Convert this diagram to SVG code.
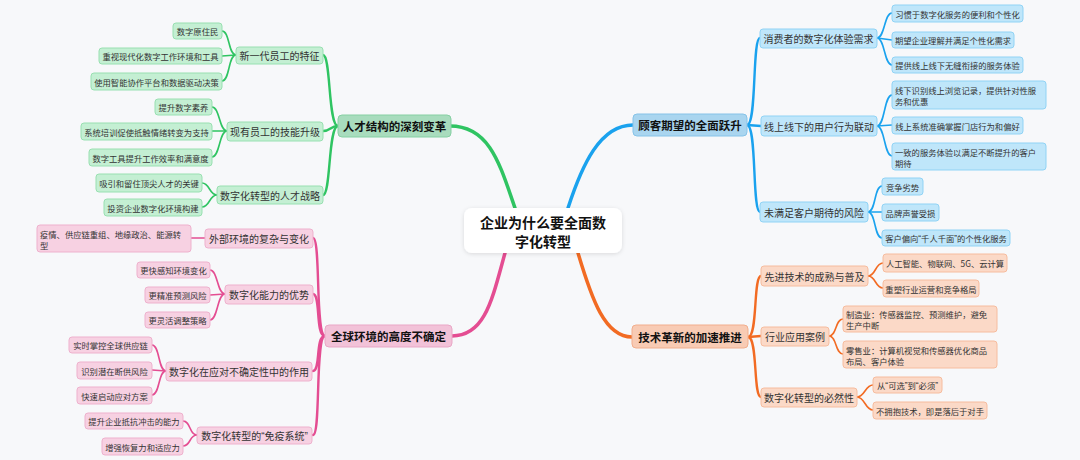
<svg xmlns="http://www.w3.org/2000/svg" width="1080" height="460" viewBox="0 0 1080 460">
<defs>
<style>
text{font-family:"Noto Sans CJK SC","Noto Sans",sans-serif;fill:#333;dominant-baseline:central}
.q{font-family:"Liberation Sans",sans-serif}
.lf{font-size:8.3px}
.sb{font-size:10px}
.mn{font-size:11.5px;font-weight:bold;fill:#111}
.ct{font-size:14px;font-weight:bold;fill:#111;text-anchor:middle}
.c{text-anchor:middle}
.g rect{fill:#c4efd3;stroke:#98e0b1;stroke-width:1}
.g .m{fill:#a8dcbd;stroke:#86d0a3}
.b rect{fill:#bfe6fa;stroke:#90d3f5;stroke-width:1}
.b .m{fill:#a9d5ef;stroke:#86c3e8}
.p rect{fill:#f7d1e2;stroke:#eeb1cd;stroke-width:1}
.p .m{fill:#f2c2d8;stroke:#e9a7c6}
.o rect{fill:#fbd9c7;stroke:#f6bc9e;stroke-width:1}
.o .m{fill:#f8cbb4;stroke:#f1ae8d}
.cg{stroke:#2fc462}.cb{stroke:#1aa2ee}.cp{stroke:#e44d92}.co{stroke:#f26b23}
.l1{fill:none;stroke-width:3.5;stroke-linecap:round}
.l2{fill:none;stroke-width:2.4;stroke-linecap:round}
.l3{fill:none;stroke-width:1.6;stroke-linecap:round}
</style>
<filter id="sh" x="-20%" y="-30%" width="140%" height="160%"><feDropShadow dx="0" dy="1" stdDeviation="2" flood-color="#000" flood-opacity="0.12"/></filter>
</defs>
<rect width="1080" height="460" fill="#f7f8fa"/>
<g id="connectors">
<path class="l1 cg" d="M515,208 C500,165 490,126 450,126"/>
<path class="l1 cb" d="M568,208 C582,165 600,125 633,125"/>
<path class="l1 cp" d="M505,253 C492,300 485,336 452,336"/>
<path class="l1 co" d="M578,253 C592,300 605,337 632,337"/>
<path class="l2 cg" d="M338,126 C328,126 331,55 323,55"/>
<path class="l2 cg" d="M338,126 C330,126 331,131 323,131"/>
<path class="l2 cg" d="M338,126 C328,126 331,195 323,195"/>
<path class="l3 cg" d="M236,55 C228,55 230,31 222,31"/>
<path class="l3 cg" d="M236,55 L222,56"/>
<path class="l3 cg" d="M236,55 C228,55 230,81 222,81"/>
<path class="l3 cg" d="M227,131 C219,131 220,107 212,107"/>
<path class="l3 cg" d="M227,131 L212,131"/>
<path class="l3 cg" d="M227,131 C219,131 220,157 212,157"/>
<path class="l3 cg" d="M217,195 C209,195 210,183 202,183"/>
<path class="l3 cg" d="M217,195 C209,195 210,207 202,207"/>
<path class="l2 cp" d="M325,336 C315,336 321,238 313,238"/>
<path class="l2 cp" d="M325,336 C315,336 321,294 313,294"/>
<path class="l2 cp" d="M325,336 C315,336 321,371 313,371"/>
<path class="l2 cp" d="M325,336 C315,336 321,435 313,435"/>
<path class="l3 cp" d="M205,238 L191,238"/>
<path class="l3 cp" d="M225,294 C217,294 218,270 210,270"/>
<path class="l3 cp" d="M225,294 L210,295"/>
<path class="l3 cp" d="M225,294 C217,294 218,320 210,320"/>
<path class="l3 cp" d="M166,371 C158,371 160,345 152,345"/>
<path class="l3 cp" d="M166,371 L152,370"/>
<path class="l3 cp" d="M166,371 C158,371 160,395 152,395"/>
<path class="l3 cp" d="M197,435 C189,435 191,421 183,421"/>
<path class="l3 cp" d="M197,435 C189,435 191,446 183,446"/>
<path class="l2 cb" d="M747,125 C757,125 752,38 760,38"/>
<path class="l2 cb" d="M747,125 L761,126"/>
<path class="l2 cb" d="M747,125 C757,125 752,212 760,212"/>
<path class="l3 cb" d="M877,38 C885,38 884,13 892,13"/>
<path class="l3 cb" d="M877,38 L892,40"/>
<path class="l3 cb" d="M877,38 C885,38 884,65 892,65"/>
<path class="l3 cb" d="M877,126 C885,126 884,95 892,95"/>
<path class="l3 cb" d="M877,126 L892,125"/>
<path class="l3 cb" d="M877,126 C885,126 884,156 892,156"/>
<path class="l3 cb" d="M868,212 C876,212 874,186 882,186"/>
<path class="l3 cb" d="M868,212 L882,212"/>
<path class="l3 cb" d="M868,212 C876,212 874,238 882,238"/>
<path class="l2 co" d="M748,337 C758,337 753,276 761,276"/>
<path class="l2 co" d="M748,337 L761,336"/>
<path class="l2 co" d="M748,337 C758,337 753,397 761,397"/>
<path class="l3 co" d="M868,276 C876,276 875,263 883,263"/>
<path class="l3 co" d="M868,276 C876,276 875,288 883,288"/>
<path class="l3 co" d="M829,336 C837,336 835,319 843,319"/>
<path class="l3 co" d="M829,336 C837,336 835,354 843,354"/>
<path class="l3 co" d="M857,397 C865,397 865,385 873,385"/>
<path class="l3 co" d="M857,397 C865,397 865,410 873,410"/>
</g>
<g id="center">
<rect x="464" y="208" width="158" height="45" rx="8" fill="#fff" filter="url(#sh)"/>
<text class="ct" x="543" y="221.5">企业为什么要全面数</text>
<text class="ct" x="543" y="240.5">字化转型</text>
</g>
<g id="talent" class="g">
<rect class="m" x="338" y="115" width="113" height="22" rx="4"/>
<text class="mn c" x="394.5" y="126">人才结构的深刻变革</text>
<g id="g-s1"><rect x="236" y="47" width="87" height="17" rx="3"/><text class="sb c" x="279.5" y="55.5">新一代员工的特征</text></g>
<g id="g-s1-1"><rect x="173" y="23" width="49" height="16" rx="3"/><text class="lf c" x="197.5" y="31">数字原住民</text></g>
<g id="g-s1-2"><rect x="99" y="48" width="123" height="16" rx="3"/><text class="lf c" x="160.5" y="56">重视现代化数字工作环境和工具</text></g>
<g id="g-s1-3"><rect x="91" y="73" width="131" height="17" rx="3"/><text class="lf c" x="156.5" y="81.5">使用智能协作平台和数据驱动决策</text></g>
<g id="g-s2"><rect x="227" y="122" width="96" height="19" rx="3"/><text class="sb c" x="275" y="131.5">现有员工的技能升级</text></g>
<g id="g-s2-1"><rect x="155" y="99" width="57" height="16" rx="3"/><text class="lf c" x="183.5" y="107">提升数字素养</text></g>
<g id="g-s2-2"><rect x="81" y="123" width="131" height="17" rx="3"/><text class="lf c" x="146.5" y="131.5">系统培训促使抵触情绪转变为支持</text></g>
<g id="g-s2-3"><rect x="89" y="149" width="123" height="17" rx="3"/><text class="lf c" x="150.5" y="157.5">数字工具提升工作效率和满意度</text></g>
<g id="g-s3"><rect x="217" y="186" width="106" height="18" rx="3"/><text class="sb c" x="270" y="195">数字化转型的人才战略</text></g>
<g id="g-s3-1"><rect x="96" y="174" width="106" height="18" rx="3"/><text class="lf c" x="149" y="183">吸引和留住顶尖人才的关键</text></g>
<g id="g-s3-2"><rect x="104" y="199" width="98" height="17" rx="3"/><text class="lf c" x="153" y="207.5">投资企业数字化环境构建</text></g>
</g>
<g id="global" class="p">
<rect class="m" x="325" y="325" width="127" height="22" rx="4"/>
<text class="mn c" x="388.5" y="336">全球环境的高度不确定</text>
<g id="p-s1"><rect x="205" y="229" width="108" height="19" rx="3"/><text class="sb c" x="259" y="238.5">外部环境的复杂与变化</text></g>
<g id="p-s1-1"><rect x="37" y="225" width="154" height="27" rx="3"/><text class="lf" x="40" y="233.5">疫情、供应链重组、地缘政治、能源转</text><text class="lf" x="40" y="244.5">型</text></g>
<g id="p-s2"><rect x="225" y="285" width="88" height="19" rx="3"/><text class="sb c" x="269" y="294.5">数字化能力的优势</text></g>
<g id="p-s2-1"><rect x="137" y="262" width="73" height="16" rx="3"/><text class="lf c" x="173.5" y="270">更快感知环境变化</text></g>
<g id="p-s2-2"><rect x="145" y="287" width="65" height="16" rx="3"/><text class="lf c" x="177.5" y="295">更精准预测风险</text></g>
<g id="p-s2-3"><rect x="145" y="312" width="65" height="16" rx="3"/><text class="lf c" x="177.5" y="320">更灵活调整策略</text></g>
<g id="p-s3"><rect x="166" y="362" width="146" height="19" rx="3"/><text class="sb c" x="239" y="371.5">数字化在应对不确定性中的作用</text></g>
<g id="p-s3-1"><rect x="69" y="337" width="83" height="16" rx="3"/><text class="lf c" x="110.5" y="345">实时掌控全球供应链</text></g>
<g id="p-s3-2"><rect x="77" y="362" width="75" height="17" rx="3"/><text class="lf c" x="114.5" y="370.5">识别潜在断供风险</text></g>
<g id="p-s3-3"><rect x="77" y="387" width="75" height="17" rx="3"/><text class="lf c" x="114.5" y="395.5">快速启动应对方案</text></g>
<g id="p-s4"><rect x="197" y="427" width="115" height="17" rx="3"/><text class="sb c" x="254.5" y="435.5">数字化转型的<tspan class="q">“</tspan>免疫系统<tspan class="q">”</tspan></text></g>
<g id="p-s4-1"><rect x="85" y="413" width="98" height="16" rx="3"/><text class="lf c" x="134" y="421">提升企业抵抗冲击的能力</text></g>
<g id="p-s4-2"><rect x="102" y="438" width="81" height="17" rx="3"/><text class="lf c" x="142.5" y="446.5">增强恢复力和适应力</text></g>
</g>
<g id="customer" class="b">
<rect class="m" x="633" y="114" width="114" height="22" rx="4"/>
<text class="mn c" x="690" y="125">顾客期望的全面跃升</text>
<g id="b-s1"><rect x="760" y="29" width="117" height="19" rx="3"/><text class="sb c" x="818.5" y="38.5">消费者的数字化体验需求</text></g>
<g id="b-s1-1"><rect x="892" y="5" width="131" height="17" rx="3"/><text class="lf c" x="957.5" y="13.5">习惯于数字化服务的便利和个性化</text></g>
<g id="b-s1-2"><rect x="892" y="32" width="122" height="16" rx="3"/><text class="lf c" x="953" y="40">期望企业理解并满足个性化需求</text></g>
<g id="b-s1-3"><rect x="892" y="57" width="131" height="16" rx="3"/><text class="lf c" x="957.5" y="65">提供线上线下无缝衔接的服务体验</text></g>
<g id="b-s2"><rect x="761" y="116" width="116" height="20" rx="3"/><text class="sb c" x="819" y="126">线上线下的用户行为联动</text></g>
<g id="b-s2-1"><rect x="892" y="81" width="154" height="28" rx="3"/><text class="lf" x="895" y="89.5">线下识别线上浏览记录，提供针对性服</text><text class="lf" x="895" y="100.5">务和优惠</text></g>
<g id="b-s2-2"><rect x="892" y="117" width="131" height="17" rx="3"/><text class="lf c" x="957.5" y="125.5">线上系统准确掌握门店行为和偏好</text></g>
<g id="b-s2-3"><rect x="892" y="143" width="154" height="27" rx="3"/><text class="lf" x="895" y="151.5">一致的服务体验以满足不断提升的客户</text><text class="lf" x="895" y="162.5">期待</text></g>
<g id="b-s3"><rect x="760" y="202" width="108" height="20" rx="3"/><text class="sb c" x="814" y="212">未满足客户期待的风险</text></g>
<g id="b-s3-1"><rect x="882" y="178" width="41" height="17" rx="3"/><text class="lf c" x="902.5" y="186.5">竞争劣势</text></g>
<g id="b-s3-2"><rect x="882" y="204" width="57" height="17" rx="3"/><text class="lf c" x="910.5" y="212.5">品牌声誉受损</text></g>
<g id="b-s3-3"><rect x="882" y="230" width="128" height="16" rx="3"/><text class="lf c" x="946" y="238">客户偏向<tspan class="q">“</tspan>千人千面<tspan class="q">”</tspan>的个性化服务</text></g>
</g>
<g id="tech" class="o">
<rect class="m" x="632" y="325" width="116" height="23" rx="4"/>
<text class="mn c" x="690" y="336.5">技术革新的加速推进</text>
<g id="o-s1"><rect x="761" y="266" width="107" height="20" rx="3"/><text class="sb c" x="814.5" y="276">先进技术的成熟与普及</text></g>
<g id="o-s1-1"><rect x="883" y="254" width="124" height="18" rx="3"/><text class="lf c" x="945" y="263">人工智能、物联网、5G、云计算</text></g>
<g id="o-s1-2"><rect x="883" y="280" width="96" height="17" rx="3"/><text class="lf c" x="931" y="288.5">重塑行业运营和竞争格局</text></g>
<g id="o-s2"><rect x="761" y="327" width="68" height="19" rx="3"/><text class="sb c" x="795" y="336.5">行业应用案例</text></g>
<g id="o-s2-1"><rect x="843" y="306" width="154" height="26" rx="3"/><text class="lf" x="846" y="313.5">制造业：传感器监控、预测维护，避免</text><text class="lf" x="846" y="324.5">生产中断</text></g>
<g id="o-s2-2"><rect x="843" y="341" width="154" height="27" rx="3"/><text class="lf" x="846" y="349.5">零售业：计算机视觉和传感器优化商品</text><text class="lf" x="846" y="360.5">布局、客户体验</text></g>
<g id="o-s3"><rect x="761" y="388" width="96" height="19" rx="3"/><text class="sb c" x="809" y="397.5">数字化转型的必然性</text></g>
<g id="o-s3-1"><rect x="873" y="377" width="69" height="16" rx="3"/><text class="lf c" x="907.5" y="385">从<tspan class="q">“</tspan>可选<tspan class="q">”</tspan>到<tspan class="q">“</tspan>必须<tspan class="q">”</tspan></text></g>
<g id="o-s3-2"><rect x="873" y="402" width="114" height="17" rx="3"/><text class="lf c" x="930" y="410.5">不拥抱技术，即是落后于对手</text></g>
</g>
</svg>
